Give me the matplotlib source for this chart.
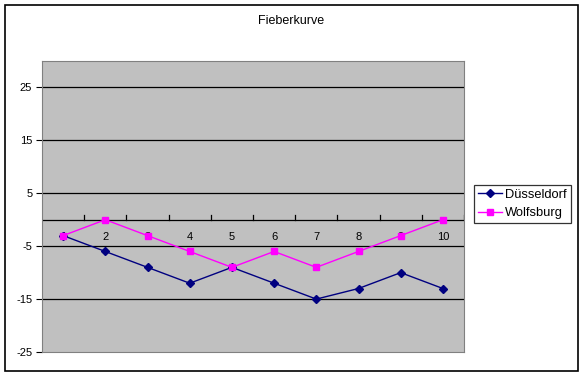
#!/usr/bin/env python3
"""Fieberkurve: Excel-style line chart."""

import matplotlib.pyplot as plt
from matplotlib.patches import Rectangle
from matplotlib.transforms import offset_copy

plt.rcParams["font.family"] = ["Liberation Sans", "DejaVu Sans"]

days = [1, 2, 3, 4, 5, 6, 7, 8, 9, 10]
duesseldorf = [-3, -6, -9, -12, -9, -12, -15, -13, -10, -13]
wolfsburg = [-3, 0, -3, -6, -9, -6, -9, -6, -3, 0]
y_ticks = [-25, -15, -5, 5, 15, 25]

W, H = 584, 377
fig = plt.figure(figsize=(W / 100, H / 100), dpi=100)

# outer chart border
fig.patches.append(Rectangle((5 / W, 1 - 371 / H), 573 / W, 366 / H,
                             transform=fig.transFigure, fill=False,
                             edgecolor="black", linewidth=1.2))

ax = fig.add_axes([42 / W, 1 - 352 / H, 422 / W, 291 / H])
ax.set_facecolor("#c0c0c0")
ax.set_xlim(0.5, 10.5)
ax.set_ylim(-25, 30)
for s in ax.spines.values():
    s.set_color("#808080")
    s.set_linewidth(0.8)

for y in y_ticks[1:]:
    ax.axhline(y, color="black", linewidth=0.9, zorder=1)
ax.axhline(0, color="black", linewidth=0.9, zorder=1)

# category tick marks pointing up from the zero line
for b in range(1, 11):
    ax.plot([b + 0.5, b + 0.5], [0, 0.8], color="black", linewidth=0.9, zorder=1)

ax.set_yticks(y_ticks)
ax.set_yticklabels([str(v) for v in y_ticks], fontsize=8)
ax.tick_params(axis="y", length=4, width=0.8, color="black", pad=3)
ax.set_xticks([])

lab_tr = offset_copy(ax.transData, fig=fig, x=0, y=-8.5, units="points")
for d in days:
    ax.text(d, 0, str(d), transform=lab_tr, ha="center", va="top", fontsize=8, zorder=2)

ax.plot(days, duesseldorf, color="#000080", marker="D", markersize=4,
        linewidth=1, label="Düsseldorf", zorder=3)
ax.plot(days, wolfsburg, color="#ff00ff", marker="s", markersize=5,
        linewidth=1, label="Wolfsburg", zorder=3)

fig.text(0.5 * (5 + 578) / W, 1 - 21 / H, "Fieberkurve", ha="center",
         va="center", fontsize=9)

leg = fig.legend(loc="upper left", bbox_to_anchor=(474 / W, 1 - 185 / H),
                 fontsize=9.3, frameon=True, fancybox=False, borderpad=0.3,
                 handlelength=1.9, handletextpad=0.2, labelspacing=0.5,
                 borderaxespad=0)
leg.get_frame().set_edgecolor("black")
leg.get_frame().set_linewidth(0.9)

fig.savefig("out.png", dpi=100)
